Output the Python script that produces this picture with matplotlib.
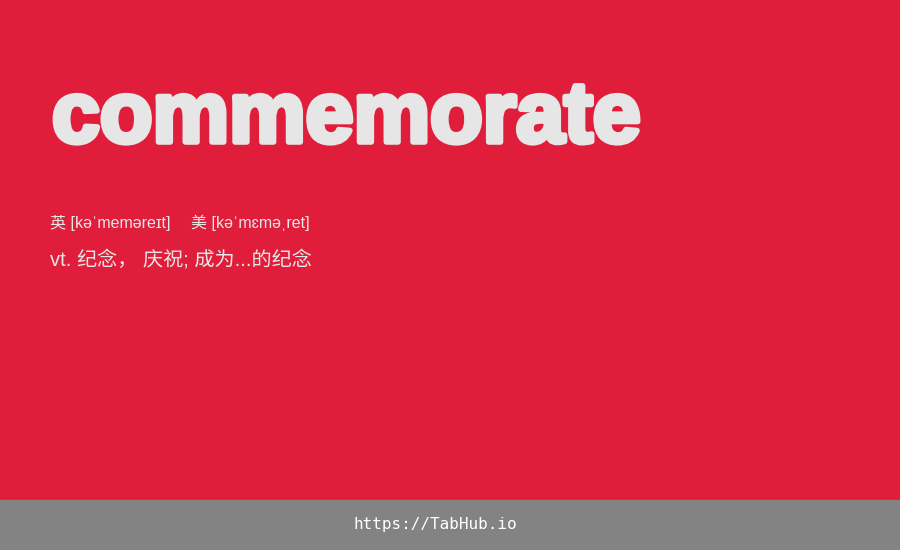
import matplotlib
matplotlib.use("Agg")
import matplotlib.pyplot as plt
import matplotlib.patheffects as pe
from matplotlib.patches import Rectangle

word = "commemorate"
phonetic_uk = "[kəˈmeməreɪt]"
phonetic_us = "[kəˈmɛməˌret]"
meaning = "vt. 纪念， 庆祝; 成为...的纪念"
footer = "https://TabHub.io"

fams = ["Liberation Sans", "Noto Sans CJK SC", "DejaVu Sans"]
W, H = 900, 550
fig = plt.figure(figsize=(9, 5.5), dpi=100)
ax = fig.add_axes([0, 0, 1, 1])
ax.set_xlim(0, W)
ax.set_ylim(H, 0)
ax.axis("off")
ax.add_patch(Rectangle((0, 0), W, 500, color="#e01e3c"))
ax.add_patch(Rectangle((0, 500), W, 50, color="#838383"))

light = "#e6e6e6"
ax.text(52, 120, word, fontsize=62, fontweight="bold", family="Liberation Sans",
        color=light, va="center", ha="left",
        path_effects=[pe.withStroke(linewidth=4, foreground=light)])
ax.text(50, 223, "英 " + phonetic_uk, fontsize=11.5, family=fams, color=light, va="center")
ax.text(191, 223, "美 " + phonetic_us, fontsize=11.5, family=fams, color=light, va="center")
ax.text(50, 260, meaning, fontsize=14.5, family=fams, color=light, va="center")
ax.text(435, 525, footer, fontsize=11.5, family="DejaVu Sans Mono", color="white",
        va="center", ha="center")

fig.savefig("out.png", dpi=100)
